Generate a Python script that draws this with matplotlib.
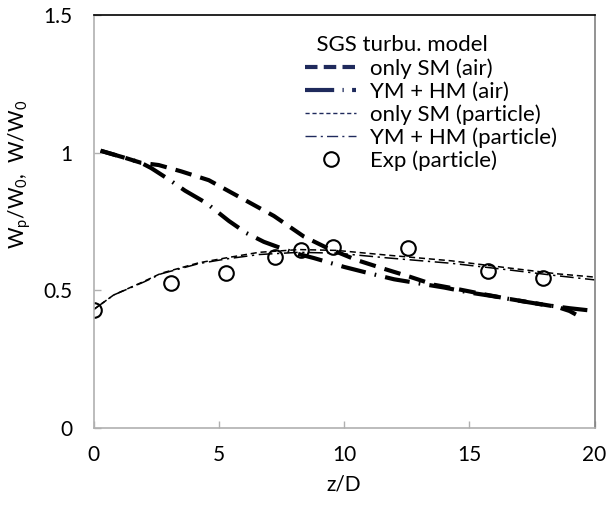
import numpy as np
import matplotlib
matplotlib.use("Agg")
import matplotlib.pyplot as plt
from matplotlib.lines import Line2D

plt.rcParams['font.family'] = ['Lato', 'DejaVu Sans']
plt.rcParams['mathtext.fontset'] = 'custom'
plt.rcParams['mathtext.rm'] = 'Lato'

# experiment (particle)
exp_x = [0, 3.1, 5.3, 7.25, 8.3, 9.55, 12.55, 15.75, 17.95]
exp_y = [0.43, 0.525, 0.563, 0.622, 0.647, 0.657, 0.655, 0.571, 0.545]

# only SM (air)
sm_air_x = [0.28, 1.3, 1.9, 2.6, 3.5, 4.6, 5.8, 7.2, 8.4, 9.3, 10.5, 11.6, 12.6,
            13.6, 14.5, 15.5, 16.5, 17.5, 18.5, 19.0, 19.5]
sm_air_y = [1.007, 0.98, 0.963, 0.955, 0.932, 0.90, 0.84, 0.77, 0.695, 0.655, 0.61,
            0.578, 0.55, 0.52, 0.505, 0.487, 0.47, 0.455, 0.44, 0.425, 0.40]

# YM + HM (air)
ym_air_x = [0.28, 1.3, 1.9, 2.3, 3.05, 3.65, 4.5, 5.4, 6.1, 6.8, 8.0, 8.8, 10.0,
            11.0, 12.0, 13.0, 14.0, 15.0, 16.0, 17.0, 18.0, 19.0, 20.0]
ym_air_y = [1.007, 0.98, 0.963, 0.944, 0.90, 0.862, 0.817, 0.752, 0.708, 0.676,
            0.636, 0.617, 0.585, 0.562, 0.54, 0.525, 0.51, 0.492, 0.478, 0.462,
            0.447, 0.435, 0.425]

# particle curves
p_x = [0, 0.8, 2.0, 2.7, 4.2, 5.3, 6.6, 8.2, 9.7, 11.7, 14.3, 16.5, 18.5, 20]
sm_p_y = [0.43, 0.483, 0.532, 0.562, 0.60, 0.618, 0.638, 0.648, 0.645, 0.628,
          0.607, 0.582, 0.56, 0.548]
ym_p_y = [0.43, 0.483, 0.53, 0.56, 0.597, 0.614, 0.63, 0.638, 0.635, 0.618,
          0.598, 0.575, 0.553, 0.538]

labels = ['only SM (air)', 'YM + HM (air)', 'only SM (particle)',
          'YM + HM (particle)', 'Exp (particle)']

fig = plt.figure(figsize=(6.14, 5.05), dpi=100)
ax = fig.add_axes([0.1524, 0.1525, 0.816, 0.8178])

ax.plot(sm_air_x, sm_air_y, color='black', lw=3, dashes=(4, 2.2))
ax.plot(ym_air_x, ym_air_y, color='black', lw=3, dashes=(6, 2.2, 0.4, 2.2))
ax.plot(p_x, sm_p_y, color='black', lw=1.1, dashes=(4, 2.5))
ax.plot(p_x, ym_p_y, color='black', lw=1.1, dashes=(9, 3, 1.5, 3))
ax.plot(exp_x, exp_y, 'o', ms=10.5, mfc='none', mec='black', mew=1.5)

ax.set_xlim(0, 20)
ax.set_ylim(0, 1.5)
ax.set_xticks([0, 5, 10, 15, 20])
ax.set_yticks([0, 0.5, 1, 1.5])
ax.set_yticklabels(['0', '0.5', '1', '1.5'])
ax.tick_params(direction='in', length=5, width=1, color='#b0b0b0',
               labelsize=15)
ax.tick_params(axis='x', pad=12)
ax.tick_params(axis='y', pad=15)
ax.spines['left'].set_color('#b0b0b0')
ax.spines['bottom'].set_color('#b0b0b0')
ax.spines['top'].set_color('black')
ax.spines['right'].set_color('#808080')
for s in ax.spines.values():
    s.set_linewidth(1.2)

ax.set_xlabel('z/D', fontsize=15, labelpad=7)
ax.set_ylabel(r'W$_\mathregular{p}$/W$_\mathregular{0}$,  W/W$_\mathregular{0}$',
              fontsize=15)
ax.yaxis.set_label_coords(-0.12, 0.615)

navy = '#1f2a5c'
handles = [
    Line2D([], [], color=navy, lw=3, dashes=(3, 1.5)),
    Line2D([], [], color=navy, lw=3, dashes=(7, 2, 0.3, 2)),
    Line2D([], [], color=navy, lw=1, dashes=(3, 2)),
    Line2D([], [], color=navy, lw=1, dashes=(8, 3, 1.5, 3)),
    Line2D([], [], ls='none', marker='o', ms=10.5, mfc='none', mec='black', mew=1.5),
]
leg = ax.legend(handles, labels, title='  SGS turbu. model', loc='upper left',
                bbox_to_anchor=(0.405, 0.972), frameon=False, fontsize=16,
                title_fontsize=16, handlelength=2.3, handletextpad=0.6,
                labelspacing=0.12, alignment='left', borderaxespad=0)

fig.savefig('out.png', dpi=100)
